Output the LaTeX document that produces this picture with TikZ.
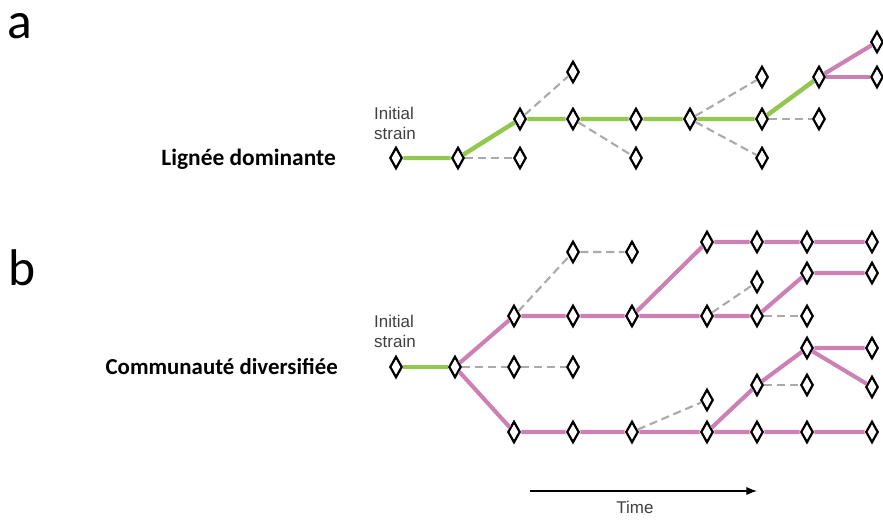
\documentclass[tikz,border=0pt]{standalone}
\usepackage{fontspec}
\setmainfont{Carlito}
\newfontfamily\helv{Liberation Sans}
\usetikzlibrary{shapes.geometric, arrows.meta}
\definecolor{lgreen}{RGB}{146,200,80}
\definecolor{lpink}{RGB}{204,128,180}
\definecolor{lgray}{RGB}{170,170,170}
\tikzset{
  strain/.style={diamond, draw, fill=white, line width=1.9pt, inner sep=0pt, minimum width=0.37cm, minimum height=0.64cm},
  mainline/.style={draw=lgreen, line width=3.8pt},
  branchline/.style={draw=lpink, line width=3.5pt},
  lostline/.style={draw=lgray, line width=1.8pt, dash pattern=on 7pt off 4pt},
  tag/.style={font=\helv\fontsize{14.5}{17}\selectfont, text=black!75, inner sep=0pt},
}
\begin{document}
\begin{tikzpicture}[x=0.03cm, y=-0.03cm, >=latex]
    \useasboundingbox (0,0) rectangle (883,519);

    \node (pa) [font=\fontsize{44}{50}\selectfont, inner sep=0pt] at (20,26) {a};
    \node (pb) [font=\fontsize{44}{50}\selectfont, inner sep=0pt] at (22,268) {b};
    \node (lda) [anchor=east, inner sep=0pt, font=\bfseries\fontsize{20}{24}\selectfont] at (336,159) {Lignée dominante};
    \node (lcd) [anchor=east, inner sep=0pt, font=\bfseries\fontsize{19.5}{24}\selectfont] at (338,367) {Communauté diversifiée};
    \node (ia) [tag, align=left] at (395,123) {Initial\\strain};
    \node (ib) [tag, align=left] at (395,331) {Initial\\strain};

    % a
    \node (a0) [strain] at (396,158) {};
    \node (a1) [strain] at (458,158) {};
    \node (a2) [strain] at (520,119) {};
    \node (a2d) [strain] at (520,158) {};
    \node (a3u) [strain] at (573,72) {};
    \node (a3) [strain] at (573,119) {};
    \node (a4) [strain] at (636,119) {};
    \node (a4d) [strain] at (636,158) {};
    \node (a5) [strain] at (690,119) {};
    \node (a6u) [strain] at (762,77) {};
    \node (a6) [strain] at (762,119) {};
    \node (a6d) [strain] at (762,158) {};
    \node (a7) [strain] at (819,77) {};
    \node (a7d) [strain] at (819,119) {};
    \node (a8u) [strain] at (877,42) {};
    \node (a8) [strain] at (877,77) {};

    \draw[mainline] (a0) -- (a1) -- (a2) -- (a3) -- (a4) -- (a5) -- (a6) -- (a7);
    \draw[lostline] (a1) -- (a2d);
    \draw[lostline] (a2) -- (a3u);
    \draw[lostline] (a3) -- (a4d);
    \draw[lostline] (a5) -- (a6u);
    \draw[lostline] (a5) -- (a6d);
    \draw[lostline] (a6) -- (a7d);
    \draw[branchline] (a7) -- (a8u);
    \draw[branchline] (a7) -- (a8);

    % b
    \node (b0) [strain] at (396,367) {};
    \node (b1) [strain] at (455,367) {};
    \node (b2u) [strain] at (514,316) {};
    \node (b2) [strain] at (514,367) {};
    \node (b2d) [strain] at (514,432) {};
    \node (b3u) [strain] at (573,252) {};
    \node (b3) [strain] at (573,316) {};
    \node (b3m) [strain] at (573,367) {};
    \node (b3d) [strain] at (573,432) {};
    \node (b4u) [strain] at (632,252) {};
    \node (b4) [strain] at (632,316) {};
    \node (b4d) [strain] at (632,432) {};
    \node (b5u) [strain] at (707,242) {};
    \node (b5) [strain] at (707,316) {};
    \node (b5l) [strain] at (707,400) {};
    \node (b5d) [strain] at (707,432) {};
    \node (b6u) [strain] at (757,242) {};
    \node (b6m) [strain] at (757,282) {};
    \node (b6) [strain] at (757,316) {};
    \node (b6l) [strain] at (757,385) {};
    \node (b6d) [strain] at (757,432) {};
    \node (b7u) [strain] at (807,242) {};
    \node (b7m) [strain] at (807,273) {};
    \node (b7) [strain] at (807,316) {};
    \node (b7h) [strain] at (807,348) {};
    \node (b7l) [strain] at (807,385) {};
    \node (b7d) [strain] at (807,432) {};
    \node (b8u) [strain] at (872,242) {};
    \node (b8m) [strain] at (872,273) {};
    \node (b8h) [strain] at (872,348) {};
    \node (b8l) [strain] at (872,387) {};
    \node (b8d) [strain] at (872,432) {};

    \draw[mainline] (b0) -- (b1);
    \draw[branchline] (b1) -- (b2u) -- (b3) -- (b4) -- (b5) -- (b6);
    \draw[branchline] (b4) -- (b5u) -- (b6u) -- (b7u) -- (b8u);
    \draw[branchline] (b6) -- (b7m) -- (b8m);
    \draw[branchline] (b1) -- (b2d) -- (b3d) -- (b4d) -- (b5d) -- (b6d) -- (b7d) -- (b8d);
    \draw[branchline] (b5d) -- (b6l) -- (b7h) -- (b8h);
    \draw[branchline] (b7h) -- (b8l);
    \draw[lostline] (b1) -- (b2) -- (b3m);
    \draw[lostline] (b2u) -- (b3u) -- (b4u);
    \draw[lostline] (b5) -- (b6m);
    \draw[lostline] (b6) -- (b7);
    \draw[lostline] (b4d) -- (b5l);
    \draw[lostline] (b6l) -- (b7l);

    \coordinate (t0) at (530,491);
    \coordinate (t1) at (757,491);
    \draw[-{Latex[length=9pt,width=7pt]}, line width=1.1pt] (t0) -- (t1);
    \node (time) [tag] at (635,507) {Time};
\end{tikzpicture}
\end{document}
